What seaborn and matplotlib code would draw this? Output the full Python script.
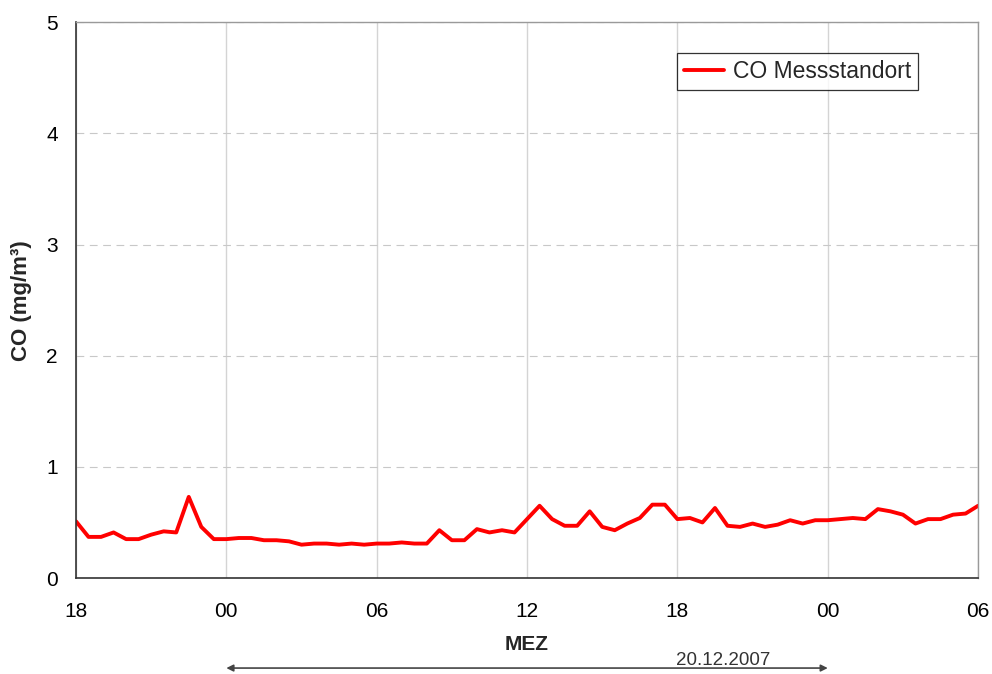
import pandas as pd
import seaborn as sns
import matplotlib.pyplot as plt
import matplotlib.dates as mdates

# CO half-hourly values (mg/m3), 19.12.2007 18:00 -> 21.12.2007 06:00
co_values = [
    0.51, 0.37, 0.37, 0.41, 0.35, 0.35, 0.39, 0.42, 0.41, 0.73, 0.46, 0.35,
    0.35, 0.36, 0.36, 0.34, 0.34, 0.33, 0.30, 0.31, 0.31, 0.30, 0.31, 0.30,
    0.31, 0.31, 0.32, 0.31, 0.31, 0.43, 0.34, 0.34, 0.44, 0.41, 0.43, 0.41,
    0.53, 0.65, 0.53, 0.47, 0.47, 0.60, 0.46, 0.43, 0.49, 0.54, 0.66, 0.66,
    0.53, 0.54, 0.50, 0.63, 0.47, 0.46, 0.49, 0.46, 0.48, 0.52, 0.49, 0.52,
    0.52, 0.53, 0.54, 0.53, 0.62, 0.60, 0.57, 0.49, 0.53, 0.53, 0.57, 0.58,
    0.65,
]
start_time = "2007-12-19 18:00"
end_time = "2007-12-21 06:00"
day_start = "2007-12-20 00:00"
day_end = "2007-12-21 00:00"
day_label = "20.12.2007"
series_name = "CO Messstandort"

times = pd.date_range(start_time, periods=len(co_values), freq="30min")
df = pd.DataFrame({"MEZ": times, "CO": co_values})

sns.set_style("white")
plt.rcParams["font.family"] = ["Liberation Sans", "DejaVu Sans"]

fig = plt.figure(figsize=(9.92, 6.74), dpi=100)
ax = fig.add_axes([0.0766, 0.1424, 0.9094, 0.8246])

sns.lineplot(data=df, x="MEZ", y="CO", color="#ff0000", linewidth=2.8,
             label=series_name, ax=ax)

ax.set_xlim(pd.Timestamp(start_time), pd.Timestamp(end_time))
ax.set_ylim(0, 5)
ax.set_yticks([0, 1, 2, 3, 4, 5])
ax.xaxis.set_major_locator(mdates.HourLocator(byhour=[0, 6, 12, 18]))
ax.xaxis.set_major_formatter(mdates.DateFormatter("%H"))

ax.grid(axis="x", color="#d4d4d4", linewidth=1.0, linestyle="-")
ax.grid(axis="y", color="#c8c8c8", linewidth=0.8, linestyle=(0, (7, 5)))
ax.set_axisbelow(True)

for s in ["top", "right"]:
    ax.spines[s].set_color("#9a9a9a")
    ax.spines[s].set_linewidth(1.0)
for s in ["left", "bottom"]:
    ax.spines[s].set_color("#333333")
    ax.spines[s].set_linewidth(1.2)

ax.tick_params(axis="both", direction="out", length=6, width=1.2,
               color="#333333", labelsize=15, labelcolor="black")
ax.tick_params(axis="x", pad=11)
ax.tick_params(axis="y", pad=7)

ax.set_xlabel("MEZ", fontsize=15, fontweight="bold", labelpad=10)
ax.set_ylabel("CO (mg/m³)", fontsize=16, fontweight="bold", labelpad=10)

leg = ax.legend(loc="upper right", bbox_to_anchor=(0.9335, 0.944),
                borderaxespad=0, fontsize=16.5, frameon=True, fancybox=False,
                handlelength=1.75, borderpad=0.3, handletextpad=0.4)
leg.get_frame().set_edgecolor("black")
leg.get_frame().set_linewidth(0.9)

# day range arrow below the axis
trans = ax.get_xaxis_transform()
x0 = mdates.date2num(pd.Timestamp(day_start))
x1 = mdates.date2num(pd.Timestamp(day_end))
xl = mdates.date2num(pd.Timestamp("2007-12-20 19:50"))
ax.annotate("", xy=(x0, -0.162), xytext=(x1, -0.162),
            xycoords=trans, textcoords=trans, annotation_clip=False,
            arrowprops=dict(arrowstyle="<|-|>", color="#444444", lw=1.2,
                            mutation_scale=10, shrinkA=0, shrinkB=0))
ax.text(xl, -0.164, day_label, transform=trans,
        ha="center", va="bottom", fontsize=13.5, color="#333333")

fig.savefig("out.png", dpi=100)
